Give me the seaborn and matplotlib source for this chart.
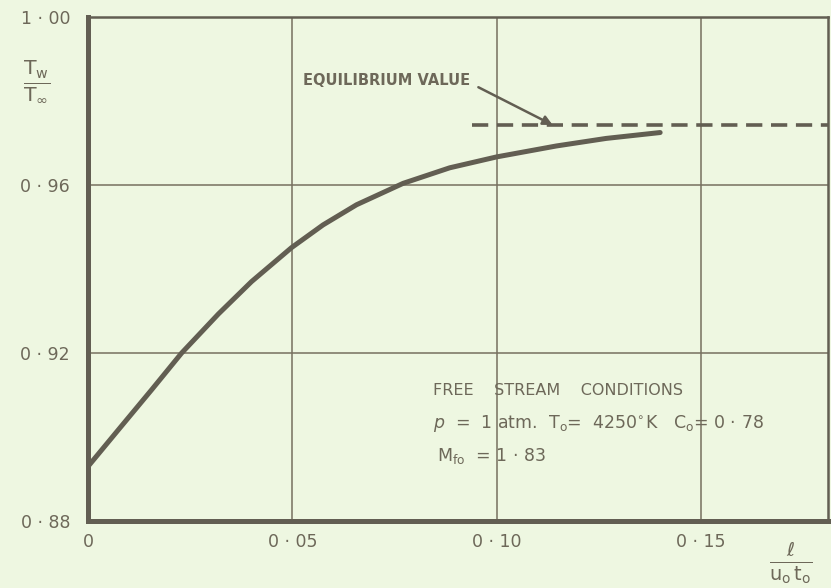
import matplotlib
matplotlib.use("Agg")
import matplotlib.pyplot as plt
import seaborn as sns
import pandas as pd

# -----------------------
# Data
# -----------------------
x_vals = [0.0, 0.0074, 0.0156, 0.0229, 0.0319, 0.040, 0.0498, 0.0575,
          0.0657, 0.0771, 0.0885, 0.100, 0.1146, 0.1268, 0.140]
tw_ratio = [0.8930, 0.9017, 0.9113, 0.9200, 0.9293, 0.9370, 0.9451, 0.9505,
            0.9553, 0.9604, 0.9641, 0.9667, 0.9693, 0.9711, 0.9725]

equilibrium_value = 0.9743
equilibrium_x = [0.094, 0.182]

x_ticks = [0.0, 0.05, 0.10, 0.15]
x_tick_labels = ["0", "0 · 05", "0 · 10", "0 · 15"]
y_ticks = [0.88, 0.92, 0.96, 1.00]
y_tick_labels = ["0 · 88", "0 · 92", "0 · 96", "1 · 00"]

df = pd.DataFrame({"x": x_vals, "Tw": tw_ratio})

# -----------------------
# Style
# -----------------------
sns.set_theme(style="white")
plt.rcParams["font.family"] = ["DejaVu Sans"]

bg = "#eef7e1"
ink = "#625e52"
text_col = "#6d6859"
grid_col = "#77705f"

fig = plt.figure(figsize=(8.31, 5.88), dpi=100, facecolor=bg)
ax = fig.add_axes([0.106, 0.114, 0.890, 0.857])
ax.set_facecolor(bg)

# grid
for gx in x_ticks[1:]:
    ax.axvline(gx, color=grid_col, lw=1.1, zorder=1)
for gy in y_ticks[1:3]:
    ax.axhline(gy, color=grid_col, lw=1.1, zorder=1)

# main curve
sns.lineplot(data=df, x="x", y="Tw", ax=ax, color=ink, lw=3.6,
             solid_capstyle="round", solid_joinstyle="round", zorder=3)

# equilibrium dashed line
ax.plot(equilibrium_x, [equilibrium_value] * 2, color=ink, lw=2.6,
        dashes=(4.5, 2.4), zorder=3)

ax.set_xlim(0, 0.181)
ax.set_ylim(0.88, 1.00)

ax.set_xticks(x_ticks)
ax.set_xticklabels(x_tick_labels)
ax.set_yticks(y_ticks)
ax.set_yticklabels(y_tick_labels)
ax.tick_params(axis="y", length=0, labelsize=12.5, labelcolor=text_col, pad=13)
ax.tick_params(axis="x", length=0, labelsize=12.5, labelcolor=text_col, pad=9)
ax.set_xlabel("")
ax.set_ylabel("")

for side in ["left", "bottom"]:
    ax.spines[side].set_linewidth(3.6)
    ax.spines[side].set_color(ink)
for side in ["top", "right"]:
    ax.spines[side].set_linewidth(1.8)
    ax.spines[side].set_color(ink)

# axis titles as fractions
fig.text(0.044, 0.862, r"$\frac{\mathrm{T_w}}{\mathrm{T}_\infty}$", fontsize=21,
         color=text_col, ha="center", va="center")
fig.text(0.951, 0.042, r"$\frac{\ell}{\mathrm{u_o\,t_o}}$", fontsize=20,
         color=text_col, ha="center", va="center")

# annotations
ax.annotate("EQUILIBRIUM VALUE", xy=(0.1137, equilibrium_value),
            xytext=(0.0935, 0.9850), ha="right", va="center",
            fontsize=10.5, fontweight="bold", color=text_col,
            arrowprops=dict(arrowstyle="-|>", color=ink, lw=1.8,
                            mutation_scale=14, shrinkA=4, shrinkB=0,
                            relpos=(1.0, 0.3)))

ax.text(0.0845, 0.9110, "FREE    STREAM    CONDITIONS", fontsize=11.5,
        color=text_col, ha="left", va="center")
ax.text(0.0845, 0.9033,
        r"$p$  =  1 atm.  T$_\mathrm{o}$=  4250$^{\circ}$K   C$_\mathrm{o}$= 0 · 78",
        fontsize=12.5, color=text_col, ha="left", va="center")
ax.text(0.0855, 0.8955, r"M$_\mathrm{fo}$  = 1 · 83", fontsize=12.5,
        color=text_col, ha="left", va="center")

plt.savefig("out.png", dpi=100, facecolor=bg)
